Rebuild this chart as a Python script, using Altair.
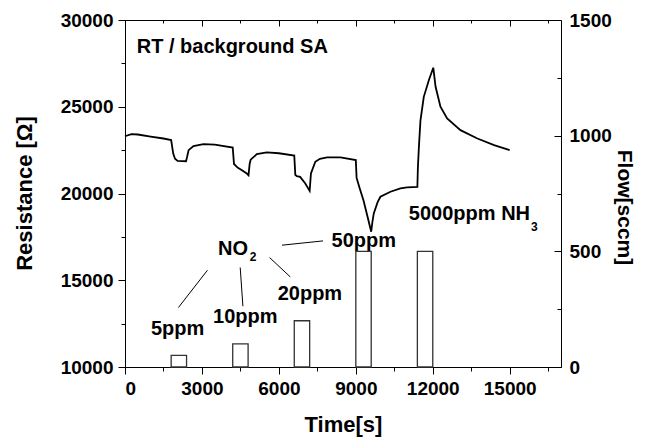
import altair as alt
import pandas as pd

FONT = "Liberation Sans"

# ---- resistance trace (time [s], resistance [Ohm]) ----
time_s = [0, 250, 500, 1000, 1500, 1800, 1880, 1950, 2050, 2380, 2420, 2480, 2670, 3060, 3500,
          4200, 4250, 4400, 4500, 4750, 4816, 4860, 4900, 5140, 5530, 6000,
          6600, 6640, 6700, 6830, 7030, 7200, 7250, 7420, 7600, 7880, 8400,
          9000, 9030, 9150, 9300, 9450, 9600, 9650, 9700, 9850, 9960, 10350, 10740, 11000, 11400,
          11420, 11460, 11520, 11650, 11850, 12020, 12110, 12300, 12560, 13080, 13740, 14390, 15000]
resistance = [23300, 23420, 23400, 23280, 23170, 23080, 22300, 22000, 21880, 21860, 22100, 22500, 22730, 22850, 22820,
              22650, 21700, 21480, 21400, 21150, 21050, 21700, 21950, 22270, 22370, 22320,
              22190, 21080, 21000, 20960, 20580, 20150, 21150, 21830, 22000, 22080, 22080,
              21930, 20900, 20300, 19600, 18700, 17800, 18400, 18850, 19500, 19810, 20100, 20290, 20350, 20380,
              21500, 22700, 24200, 25570, 26540, 27250, 26150, 25000, 24330, 23650, 23170, 22790, 22500]

# ---- gas flow pulses ----
pulse_start = [1800, 4200, 6600, 9000, 11400]
pulse_end = [2400, 4800, 7200, 9600, 12000]
pulse_flow = [50, 100, 200, 500, 500]

# ---- axis tick values ----
time_major = [0, 3000, 6000, 9000, 12000, 15000]
time_minor = [1500, 4500, 7500, 10500, 13500, 16500]
res_major = [10000, 15000, 20000, 25000, 30000]
res_minor = [12500, 17500, 22500, 27500]
flow_major = [0, 500, 1000, 1500]
flow_minor = [250, 750, 1250]

# ---- annotations (in time / resistance units) ----
ppm_text = ["5ppm", "10ppm", "20ppm", "50ppm"]
ppm_t = [2050, 4690, 7210, 9310]
ppm_R = [11830, 12540, 13850, 16920]

gas_text = ["NO", "5000ppm NH"]
gas_t = [4800, 15792]
gas_R = [16443, 18462]

sub_text = ["2", "3"]
sub_t = [4860, 15830]
sub_R = [16114, 17828]

lead_t1 = [3215, 4492, 5636, 6121]
lead_R1 = [15578, 15734, 16311, 17020]
lead_t2 = [2082, 4597, 6445, 7722]
lead_R2 = [13426, 13502, 15192, 17268]

head_text = ["RT / background SA"]
head_t = [457]
head_R = [28079]

trace = pd.DataFrame({"t": time_s, "R": resistance})
pulses = pd.DataFrame({"start": pulse_start, "end": pulse_end, "flow": pulse_flow})
ppm = pd.DataFrame({"text": ppm_text, "t": ppm_t, "R": ppm_R})
gas = pd.DataFrame({"text": gas_text, "t": gas_t, "R": gas_R})
subs = pd.DataFrame({"text": sub_text, "t": sub_t, "R": sub_R})
leads = pd.DataFrame({"t": lead_t1, "R": lead_R1, "t2": lead_t2, "R2": lead_R2})
head = pd.DataFrame({"text": head_text, "t": head_t, "R": head_R})

W, H = 436, 347
xscale = alt.Scale(domain=[0, 17000], nice=False, zero=False)
rscale = alt.Scale(domain=[10000, 30000], nice=False, zero=False)
fscale = alt.Scale(domain=[0, 1500], nice=False, zero=False)

xaxis = alt.Axis(values=time_major, format="d", tickSize=7, labelPadding=5,
                 title="Time[s]", titleBaseline="alphabetic", titleY=64)
raxis = alt.Axis(values=res_major, format="d", tickSize=7, labelPadding=5,
                 title="Resistance [\u03a9]", titleBaseline="alphabetic",
                 titleX=-94, titleY=173, titleAngle=-90, titleAlign="center")

X = alt.X("t:Q", scale=xscale, axis=xaxis)
Y = alt.Y("R:Q", scale=rscale, axis=raxis)

line = alt.Chart(trace).mark_line(color="black", strokeWidth=1.8).encode(x=X, y=Y)
leader = alt.Chart(leads).mark_rule(color="black", strokeWidth=1).encode(
    x=X, y=Y, x2="t2:Q", y2="R2:Q")
ppm_lbl = alt.Chart(ppm).mark_text(font=FONT, fontWeight="bold", fontSize=20, align="center",
                                   baseline="alphabetic", color="black").encode(x=X, y=Y, text="text:N")
gas_lbl = alt.Chart(gas).mark_text(font=FONT, fontWeight="bold", fontSize=20, align="right",
                                   baseline="alphabetic", color="black").encode(x=X, y=Y, text="text:N")
sub_lbl = alt.Chart(subs).mark_text(font=FONT, fontWeight="bold", fontSize=12, align="left",
                                    baseline="alphabetic", color="black").encode(x=X, y=Y, text="text:N")
head_lbl = alt.Chart(head).mark_text(font=FONT, fontWeight="bold", fontSize=20, align="left",
                                     baseline="alphabetic", color="black").encode(x=X, y=Y, text="text:N")

main_part = alt.layer(line, leader, ppm_lbl, gas_lbl, sub_lbl, head_lbl)

bars = alt.Chart(pulses).mark_bar(filled=False, color="#333333", strokeWidth=1.3).encode(
    x=alt.X("start:Q", scale=xscale, axis=None),
    x2="end:Q",
    y=alt.Y("flow:Q", scale=fscale, axis=alt.Axis(
        orient="right", values=flow_major, format="d", ticks=False, tickSize=0,
        domain=False, labelPadding=8, title="Flow[sccm]", titleAngle=90, titleFontSize=21,
        titleBaseline="alphabetic", titleAlign="center", titleX=56, titleY=187)),
    y2=alt.datum(0),
)


def tick_axis(orient, values, size, offset=0):
    return alt.Axis(orient=orient, offset=offset, values=values, labels=False, domain=False,
                    title=None, tickSize=size)


# minor ticks on bottom and left (outward)
minor_out = alt.Chart(trace).mark_line(opacity=0).encode(
    x=alt.X("t:Q", scale=xscale, axis=tick_axis("bottom", time_minor, 4)),
    y=alt.Y("R:Q", scale=rscale, axis=tick_axis("left", res_minor, 4)),
)
# major ticks on top and right (inward)
major_in = alt.Chart(pulses).mark_bar(opacity=0).encode(
    x=alt.X("start:Q", scale=xscale, axis=tick_axis("bottom", time_major, 6, -H)),
    x2="end:Q",
    y=alt.Y("flow:Q", scale=fscale, axis=tick_axis("left", flow_major, 7, -W)),
    y2=alt.datum(0),
)
# minor ticks on top and right (inward)
minor_in = alt.Chart(pulses).mark_bar(opacity=0).encode(
    x=alt.X("start:Q", scale=xscale, axis=tick_axis("bottom", time_minor, 3, -H)),
    x2="end:Q",
    y=alt.Y("flow:Q", scale=fscale, axis=tick_axis("left", flow_minor, 4, -W)),
    y2=alt.datum(0),
)

chart = alt.layer(main_part, bars, minor_out, major_in, minor_in).resolve_scale(
    y="independent"
).resolve_axis(
    x="independent", y="independent"
).properties(
    width=W, height=H,
    autosize=alt.AutoSizeParams(type="none"),
    padding={"left": 117, "top": 12, "right": 78, "bottom": 71},
).configure_view(stroke="black", strokeWidth=1).configure_axis(
    grid=False, labelFont=FONT, labelFontWeight="bold", labelFontSize=19, labelColor="black",
    titleFont=FONT, titleFontWeight="bold", titleFontSize=22, titleColor="black",
    domainColor="black", domainWidth=1, tickColor="black", tickWidth=1,
)

chart.save("out.html", embed_options={"renderer": "svg", "actions": False})
